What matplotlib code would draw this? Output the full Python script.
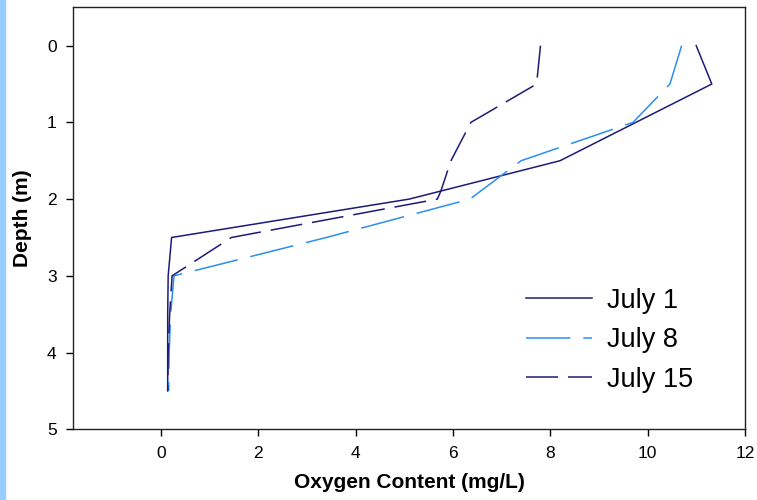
import numpy as np
import matplotlib.pyplot as plt
from matplotlib.patches import Rectangle

plt.rcParams['font.family'] = ['Liberation Sans', 'DejaVu Sans']

# depth (m) and oxygen content (mg/L)
depth_jul1 = [0, 0.5, 1.5, 2.0, 2.5, 3.0, 3.5, 4.0, 4.5]
oxy_jul1 = [11.0, 11.32, 8.2, 5.1, 0.22, 0.15, 0.14, 0.14, 0.14]

depth_jul8 = [0, 0.5, 1.0, 1.5, 2.0, 2.5, 3.0, 3.5, 4.0, 4.5]
oxy_jul8 = [10.7, 10.46, 9.7, 7.4, 6.35, 3.4, 0.27, 0.2, 0.17, 0.16]

depth_jul15 = [0, 0.5, 1.0, 1.5, 1.9, 2.0, 2.5, 3.0, 3.5, 4.0, 4.5]
oxy_jul15 = [7.8, 7.72, 6.37, 5.96, 5.75, 5.68, 1.45, 0.23, 0.18, 0.15, 0.14]

navy = '#1c1c78'
light = '#2b8ff0'

fig = plt.figure(figsize=(7.57, 5.0), dpi=100)
fig.patches.append(Rectangle((0, 0), 5 / 757, 1, transform=fig.transFigure,
                             color='#99ccff', zorder=0))
ax = fig.add_axes([0.0968, 0.1414, 0.8872, 0.844])

ax.plot(oxy_jul1, depth_jul1, color=navy, lw=1.1, label='July 1')
ax.plot(oxy_jul8, depth_jul8, color=light, lw=1.1, dashes=(29, 8.5), label='July 8')
ax.plot(oxy_jul15, depth_jul15, color=navy, lw=1.1, dashes=(21, 6.5), label='July 15')

ax.set_xlim(-1.8, 12)
ax.set_ylim(5, -0.5)
ax.set_xticks([0, 2, 4, 6, 8, 10, 12])
ax.set_yticks([0, 1, 2, 3, 4, 5])
ax.tick_params(direction='out', length=5, width=1, labelsize=12.5, pad=7,
               top=False, right=False)
for s in ax.spines.values():
    s.set_linewidth(1.0)
    s.set_color('#222222')

ax.set_xlabel('Oxygen Content (mg/L)', fontsize=15, fontweight='bold', labelpad=9)
ax.set_ylabel('Depth (m)', fontsize=15, fontweight='bold', labelpad=11)

ax.legend(loc='lower right', bbox_to_anchor=(0.959, 0.029), frameon=False,
          fontsize=19.5, handlelength=2.45, labelspacing=0.5, handletextpad=0.55)

fig.savefig('out.png', dpi=100)
